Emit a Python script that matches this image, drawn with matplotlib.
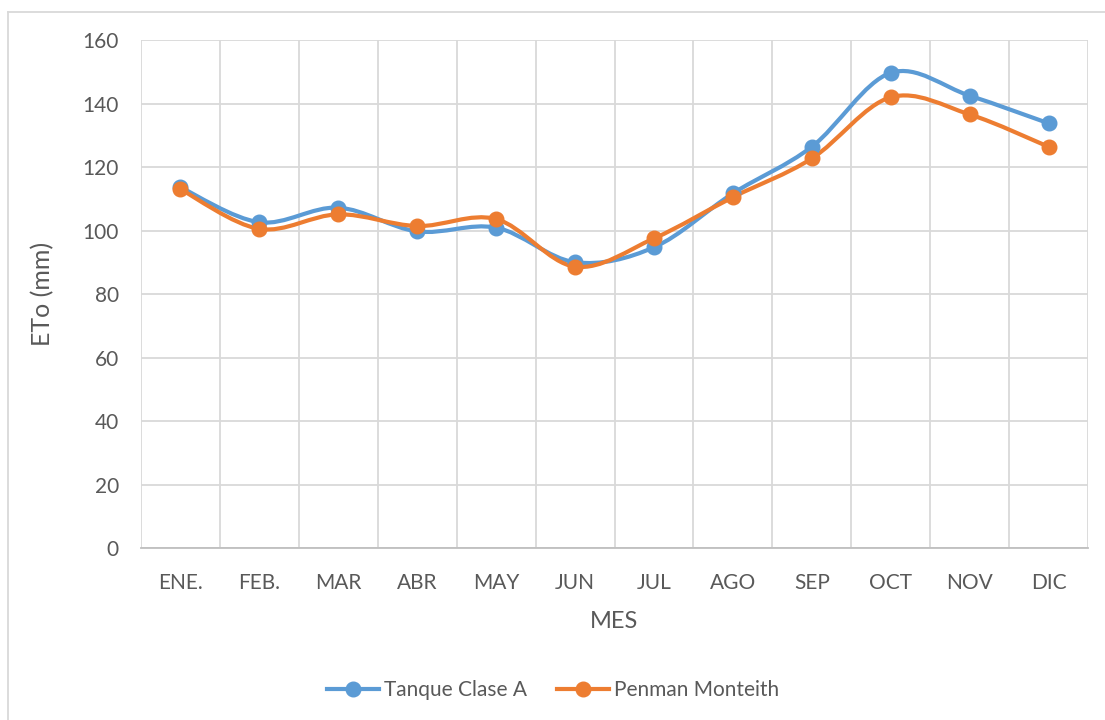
import numpy as np
import matplotlib
matplotlib.use('Agg')
import matplotlib.pyplot as plt
from matplotlib.path import Path
from matplotlib.patches import PathPatch
from matplotlib.lines import Line2D

plt.rcParams['font.family'] = ['Lato', 'DejaVu Sans']

# monthly reference evapotranspiration (mm)
meses = ['ENE.', 'FEB.', 'MAR', 'ABR', 'MAY', 'JUN', 'JUL', 'AGO', 'SEP', 'OCT', 'NOV', 'DIC']
tanque_clase_a = [113.7, 102.7, 107.3, 99.8, 101.0, 90.1, 94.8, 111.8, 126.5, 149.8, 142.6, 133.9]
penman_monteith = [113.1, 100.6, 105.2, 101.5, 103.7, 88.7, 97.6, 110.6, 122.8, 142.1, 136.7, 126.5]

azul = '#5B9BD5'
naranja = '#ED7D31'
gris_txt = '#595959'
gris_grid = '#D9D9D9'


def smooth_path(x, y):
    # cubic bezier through the points, spreadsheet-style smoothing
    x = np.asarray(x, float); y = np.asarray(y, float)
    n = len(x)
    verts = [(x[0], y[0])]
    codes = [Path.MOVETO]
    for i in range(n - 1):
        i0 = max(i - 1, 0); i3 = min(i + 2, n - 1)
        c1 = (x[i] + (x[i + 1] - x[i0]) / 6.0, y[i] + (y[i + 1] - y[i0]) / 6.0)
        c2 = (x[i + 1] - (x[i3] - x[i]) / 6.0, y[i + 1] - (y[i3] - y[i]) / 6.0)
        verts += [c1, c2, (x[i + 1], y[i + 1])]
        codes += [Path.CURVE4] * 3
    return Path(verts, codes)


fig = plt.figure(figsize=(11.05, 7.2), dpi=100)
ax = fig.add_axes([141 / 1105, 1 - 548 / 720, 947 / 1105, 507.5 / 720])

xs = np.arange(len(meses))
for serie, color in [(tanque_clase_a, azul), (penman_monteith, naranja)]:
    ax.add_patch(PathPatch(smooth_path(xs, serie), facecolor='none', edgecolor=color,
                           lw=3.0, capstyle='round', joinstyle='round', zorder=3))
    ax.plot(xs, serie, 'o', color=color, ms=10.5, zorder=4)

ax.set_xlim(-0.5, len(meses) - 0.5)
ax.set_ylim(0, 160)
ax.set_yticks(np.arange(0, 161, 20))
ax.set_xticks(xs)
ax.set_xticklabels(meses)
ax.set_xticks(np.arange(-0.5, len(meses), 1.0), minor=True)
ax.grid(True, which='minor', axis='x', color=gris_grid, lw=1.3)
ax.grid(True, which='major', axis='y', color=gris_grid, lw=1.3)
ax.set_axisbelow(True)
ax.tick_params(axis='both', which='both', length=0, colors=gris_txt, labelsize=15)
ax.tick_params(axis='y', pad=16)
ax.tick_params(axis='x', pad=18)
for s in ['top', 'right', 'left']:
    ax.spines[s].set_visible(False)
ax.spines['bottom'].set_color('#BFBFBF')
ax.spines['bottom'].set_linewidth(1.3)

ax.set_ylabel('ETo (mm)', fontsize=18, color=gris_txt, labelpad=20)
ax.set_xlabel('MES', fontsize=17, color=gris_txt, labelpad=13)

handles = [Line2D([], [], color=azul, lw=3, marker='o', ms=10.5),
           Line2D([], [], color=naranja, lw=3, marker='o', ms=10.5)]
leg = fig.legend(handles, ['Tanque Clase A', 'Penman Monteith'], loc='center',
                 bbox_to_anchor=(553 / 1105, 1 - 690 / 720), ncol=2, frameon=False,
                 fontsize=15, handlelength=2.5, handletextpad=0.25, columnspacing=1.4)
for t in leg.get_texts():
    t.set_color(gris_txt)

# chart border
fig.add_artist(Line2D([8 / 1105, 1.0], [1 - 12 / 720] * 2, color='#D9D9D9', lw=1.3))
fig.add_artist(Line2D([8 / 1105] * 2, [0.0, 1 - 12 / 720], color='#D9D9D9', lw=1.3))

fig.savefig('out.png', dpi=100)
